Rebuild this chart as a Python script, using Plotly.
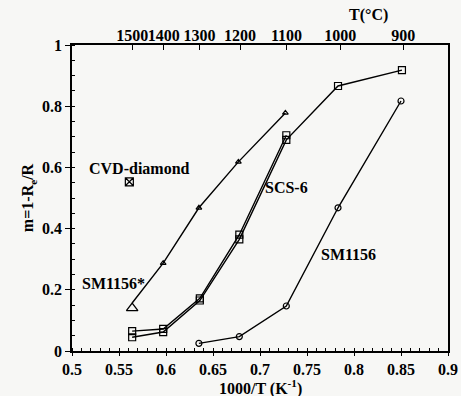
import plotly.graph_objects as go

# SCS-6 (squares), two overlapping runs
scs_a_x = [0.564, 0.597, 0.636, 0.678, 0.728, 0.783, 0.851]
scs_a_y = [0.045, 0.062, 0.165, 0.365, 0.69, 0.866, 0.918]
scs_b_x = [0.564, 0.597, 0.636, 0.678, 0.728]
scs_b_y = [0.065, 0.072, 0.172, 0.38, 0.705]
# SM1156* (triangles)
smstar_x = [0.564, 0.597, 0.635, 0.677, 0.727]
smstar_y = [0.14, 0.287, 0.468, 0.618, 0.778]
# SM1156 (circles)
sm_x = [0.635, 0.678, 0.728, 0.783, 0.85]
sm_y = [0.025, 0.047, 0.147, 0.468, 0.817]
# CVD-diamond
cvd_x = [0.561]
cvd_y = [0.553]

x_ticks = [0.5, 0.55, 0.6, 0.65, 0.7, 0.75, 0.8, 0.85, 0.9]
x_tick_text = ["0.5", "0.55", "0.6", "0.65", "0.7", "0.75", "0.8", "0.85", "0.9"]
y_ticks = [0, 0.2, 0.4, 0.6, 0.8, 1]
y_tick_text = ["0", "0.2", "0.4", "0.6", "0.8", "1"]
temps_c = [1500, 1400, 1300, 1200, 1100, 1000, 900]

FONT = "Liberation Serif"
line = dict(color="black", width=1.4)

fig = go.Figure()
fig.add_trace(go.Scatter(x=scs_a_x, y=scs_a_y, mode="lines+markers", line=line,
                         marker=dict(symbol="square-open", size=7, color="black", line=dict(width=1.2))))
fig.add_trace(go.Scatter(x=scs_b_x, y=scs_b_y, mode="lines+markers", line=line,
                         marker=dict(symbol="square-open", size=7, color="black", line=dict(width=1.2))))
fig.add_trace(go.Scatter(x=smstar_x[1:], y=smstar_y[1:], mode="markers",
                         marker=dict(symbol="triangle-up-open", size=5, color="black", line=dict(width=1.2))))
fig.add_trace(go.Scatter(x=[smstar_x[0]] + smstar_x[1:], y=[0.157] + smstar_y[1:], mode="lines", line=line))
fig.add_trace(go.Scatter(x=smstar_x[:1], y=smstar_y[:1], mode="markers",
                         marker=dict(symbol="triangle-up-open", size=10, color="black", line=dict(width=1.3))))
fig.add_trace(go.Scatter(x=sm_x, y=sm_y, mode="lines+markers", line=line,
                         marker=dict(symbol="circle-open", size=6, color="black", line=dict(width=1.2))))
fig.add_trace(go.Scatter(x=cvd_x, y=cvd_y, mode="markers",
                         marker=dict(symbol="square-x-open", size=8, color="black", line=dict(width=1.2))))
# top-axis trace (temperature scale)
top_pos = [1000.0 / (t + 273.15) for t in temps_c]
fig.add_trace(go.Scatter(x=top_pos, y=[0.5] * len(top_pos), xaxis="x2", mode="markers",
                         marker=dict(opacity=0), hoverinfo="skip", showlegend=False))

ann_font = dict(family=FONT, size=16, color="black")
fig.add_annotation(x=0.516, y=0.597, text="<b>CVD-diamond</b>", showarrow=False, xanchor="left", font=ann_font)
fig.add_annotation(x=0.509, y=0.222, text="<b>SM1156*</b>", showarrow=False, xanchor="left", font=ann_font)
fig.add_annotation(x=0.703, y=0.533, text="<b>SCS-6</b>", showarrow=False, xanchor="left", font=ann_font)
fig.add_annotation(x=0.763, y=0.314, text="<b>SM1156</b>", showarrow=False, xanchor="left", font=ann_font)
fig.add_annotation(x=0.815, xref="x", y=1.098, yref="paper", yanchor="middle", text="<b>T(°C)</b>",
                   showarrow=False, font=ann_font)
fig.add_annotation(x=0.7, xref="x", y=-0.118, yref="paper", yanchor="middle",
                   text="<b>1000/T (K<sup>-1</sup>)</b>", showarrow=False, font=ann_font)

tick_font = dict(family=FONT, size=16, color="black")
fig.update_layout(
    width=461, height=396,
    margin=dict(l=72, r=13, t=45, b=45),
    paper_bgcolor="#f7f7f5", plot_bgcolor="#f7f7f5",
    showlegend=False,
    font=dict(family=FONT, color="black"),
    xaxis=dict(range=[0.5, 0.9], tickvals=x_ticks, ticktext=["<b>%s</b>" % t for t in x_tick_text],
               ticks="outside", ticklen=3, tickwidth=1.3, tickcolor="black", tickangle=0,
               minor=dict(dtick=0.01, ticks="inside", ticklen=3, tickcolor="black"),
               showgrid=False, zeroline=False, showline=True, linecolor="black", linewidth=1.5,
               mirror=True, tickfont=tick_font, automargin=False),
    xaxis2=dict(range=[0.5, 0.9], overlaying="x", side="top", tickvals=top_pos,
                ticktext=["<b>%d</b>" % t for t in temps_c], ticks="inside", ticklen=5, tickangle=0,
                tickcolor="black", tickfont=tick_font, showgrid=False, zeroline=False, automargin=False),
    yaxis=dict(range=[0, 1], tickvals=y_ticks, ticktext=["<b>%s</b>" % t for t in y_tick_text],
               ticks="outside", ticklen=5, tickwidth=1.3, tickcolor="black",
               minor=dict(dtick=0.05, ticks="inside", ticklen=3, tickcolor="black"),
               showgrid=False, zeroline=False, showline=True, linecolor="black", linewidth=1.5,
               mirror=True, tickfont=tick_font, automargin=False,
               title=dict(text="<b>m=1-R<sub>e</sub>/R</b>", font=tick_font, standoff=4)),
)
fig.write_html("out.html")
